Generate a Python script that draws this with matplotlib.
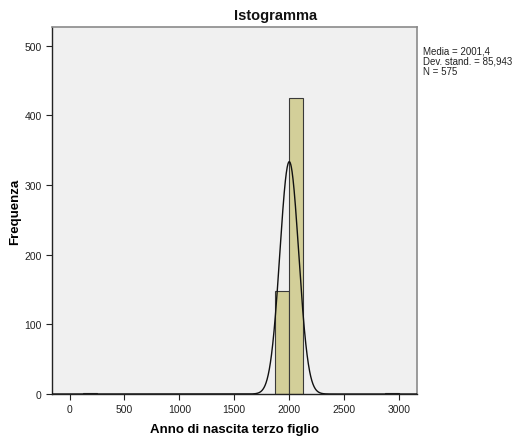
import glob
import numpy as np
import matplotlib
matplotlib.use("Agg")
import matplotlib.pyplot as plt
from matplotlib import font_manager as fm


def find_font(filename):
    for f in fm.fontManager.ttflist:
        if f.fname.endswith(filename):
            return f.fname
    hits = glob.glob('/usr/share/fonts/**/' + filename, recursive=True)
    return hits[0] if hits else None


reg_path = find_font('LiberationSans-Regular.ttf')
bold_path = find_font('LiberationSans-Bold.ttf')


def fprops(size, bold=False):
    path = bold_path if bold else reg_path
    if path:
        return fm.FontProperties(fname=path, size=size)
    return fm.FontProperties(family='DejaVu Sans', size=size,
                             weight='bold' if bold else 'normal')


# Histogram bins (left edges), width and counts
bin_left = [125, 1875, 2000, 2875]
bin_width = 125
counts = [1, 148, 425, 1]

mean = 2001.4
sd = 85.943
n = 575

x_ticks = [0, 500, 1000, 1500, 2000, 2500, 3000]
y_ticks = [0, 100, 200, 300, 400, 500]

fig = plt.figure(figsize=(5.17, 4.39), dpi=100)
ax = fig.add_axes([0.1006, 0.1002, 0.7060, 0.8360])
ax.set_facecolor('#F0F0F0')

ax.bar(bin_left, counts, width=bin_width, align='edge',
       color='#D3CF99', edgecolor='#3a3a3a', linewidth=0.8, zorder=2)

# Normal curve scaled to counts
xs = np.linspace(-160, 3165, 2000)
ys = n * bin_width / (sd * np.sqrt(2 * np.pi)) * np.exp(-0.5 * ((xs - mean) / sd) ** 2)
ax.plot(xs, ys, color='#111111', linewidth=1.0, zorder=3)

ax.set_xlim(-160, 3165)
ax.set_ylim(0, 527)
ax.set_xticks(x_ticks)
ax.set_yticks(y_ticks)
ax.tick_params(axis='both', length=4, width=0.8, color='#222222',
               labelcolor='#222222', direction='out')
for lab in ax.get_xticklabels() + ax.get_yticklabels():
    lab.set_fontproperties(fprops(7.5))

for side in ['top', 'right']:
    ax.spines[side].set_color('#8a8a8a')
    ax.spines[side].set_linewidth(1.2)
for side in ['left', 'bottom']:
    ax.spines[side].set_color('#222222')
    ax.spines[side].set_linewidth(1.0)

fig.text(276 / 517, 1 - 16 / 439, 'Istogramma', fontproperties=fprops(10.5, True),
         ha='center', va='center', color='#111111')
ax.set_xlabel('Anno di nascita terzo figlio', fontproperties=fprops(9.5, True), labelpad=6)
ax.set_ylabel('Frequenza', fontproperties=fprops(9.5, True), labelpad=2)

fig.text(423 / 517, 1 - 47 / 439,
         'Media = 2001,4\nDev. stand. = 85,943\nN = 575',
         fontproperties=fprops(7), va='top', ha='left', linespacing=1.0,
         color='#222222')

fig.savefig('out.png', dpi=100, facecolor='white')
